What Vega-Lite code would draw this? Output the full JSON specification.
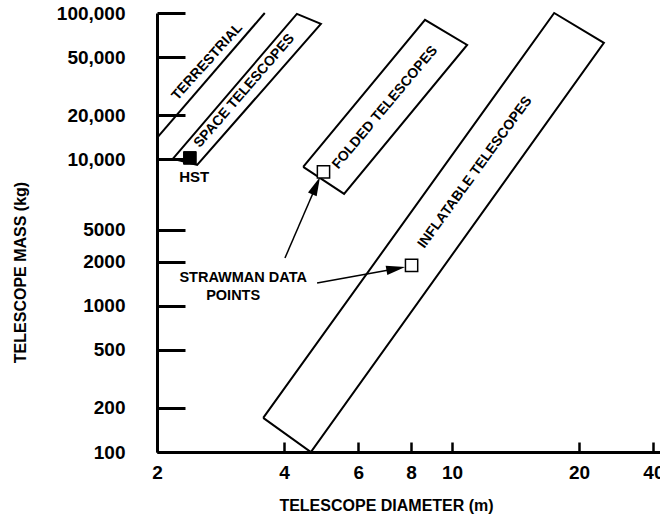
{
  "$schema": "https://vega.github.io/schema/vega-lite/v6.json",
  "width": 503,
  "height": 439,
  "autosize": "none",
  "padding": {"left": 157, "top": 13, "right": 0, "bottom": 64},
  "background": "white",
  "config": {
    "view": {"stroke": null},
    "font": "Liberation Sans",
    "axis": {
      "domainColor": "black",
      "tickColor": "black",
      "labelColor": "black",
      "titleColor": "black",
      "grid": false,
      "labelFont": "Liberation Sans",
      "labelFontWeight": "bold",
      "titleFont": "Liberation Sans",
      "titleFontWeight": "bold",
      "labelFlush": false,
      "labelOverlap": false,
      "labelBound": false
    }
  },
  "datasets": {
    "bands": [
      {"band": "terrestrial", "order": 1, "d": 2.0, "m": 14000},
      {"band": "terrestrial", "order": 2, "d": 3.6, "m": 100000},
      {"band": "space", "order": 1, "d": 2.18, "m": 10070},
      {"band": "space", "order": 2, "d": 4.29, "m": 98600},
      {"band": "space", "order": 3, "d": 4.89, "m": 84230},
      {"band": "space", "order": 4, "d": 2.49, "m": 9157},
      {"band": "space", "order": 5, "d": 2.18, "m": 10070},
      {"band": "folded", "order": 1, "d": 4.44, "m": 8870},
      {"band": "folded", "order": 2, "d": 8.63, "m": 89800},
      {"band": "folded", "order": 3, "d": 10.86, "m": 60500},
      {"band": "folded", "order": 4, "d": 5.55, "m": 5800},
      {"band": "folded", "order": 5, "d": 4.44, "m": 8870},
      {"band": "inflatable", "order": 1, "d": 3.57, "m": 171},
      {"band": "inflatable", "order": 2, "d": 17.46, "m": 100000},
      {"band": "inflatable", "order": 3, "d": 22.9, "m": 62460},
      {"band": "inflatable", "order": 4, "d": 4.63, "m": 100},
      {"band": "inflatable", "order": 5, "d": 3.57, "m": 171}
    ],
    "arrows": [
      {"arrow": "a1", "order": 1, "d": 4.02, "m": 2118},
      {"arrow": "a1", "order": 2, "d": 4.766, "m": 6607},
      {"arrow": "a2", "order": 1, "d": 4.79, "m": 1429},
      {"arrow": "a2", "order": 2, "d": 7.36, "m": 1790}
    ],
    "heads": [
      {"arrow": "a1", "d": 4.766, "m": 6607},
      {"arrow": "a2", "d": 7.36, "m": 1790}
    ],
    "points": [
      {"name": "HST", "kind": "HST", "d": 2.393, "m": 10224},
      {"name": "Folded strawman", "kind": "strawman", "d": 4.96, "m": 8202},
      {"name": "Inflatable strawman", "kind": "strawman", "d": 8.02, "m": 1883}
    ],
    "bandLabels": [
      {"label": "TERRESTRIAL", "d": 2.63, "m": 46400},
      {"label": "SPACE TELESCOPES", "d": 3.22, "m": 29340},
      {"label": "FOLDED TELESCOPES", "d": 6.94, "m": 22600},
      {"label": "INFLATABLE TELESCOPES", "d": 11.34, "m": 8150}
    ],
    "notes": [
      {"label": "HST", "d": 2.45, "m": 7590},
      {"label": "STRAWMAN DATA", "d": 3.2, "m": 1545},
      {"label": "POINTS", "d": 3.03, "m": 1165}
    ]
  },
  "layer": [
    {
      "data": {"name": "bands"},
      "mark": {"type": "line", "stroke": "black", "strokeWidth": 2},
      "encoding": {
        "x": {
          "field": "d", "type": "quantitative",
          "scale": {"type": "log", "domain": [2, 31.1], "nice": false},
          "axis": {
            "values": [2, 4, 6, 8, 10, 20, 30],
            "labelExpr": "datum.value == 30 ? '40' : format(datum.value, 'd')",
            "tickSize": -10,
            "tickWidth": 2.5,
            "domainWidth": 3,
            "labelPadding": 21,
            "labelFontSize": 19,
            "labelBaseline": "top",
            "title": "TELESCOPE DIAMETER (m)",
            "titleFontSize": 16,
            "titleX": 229,
            "titleY": 53,
            "titleAlign": "center",
            "titleBaseline": "middle"
          }
        },
        "y": {
          "field": "m", "type": "quantitative",
          "scale": {"type": "log", "domain": [100, 100000], "nice": false},
          "axis": {
            "values": [100, 200, 500, 1000, 2000, 3300, 10000, 20000, 50000, 100000],
            "labelExpr": "datum.value >= 10000 ? format(datum.value, ',') : (datum.value == 3300 ? '5000' : format(datum.value, 'd'))",
            "tickSize": -28,
            "tickWidth": 3,
            "domainWidth": 3,
            "labelPadding": 60,
            "labelFontSize": 19,
            "title": "TELESCOPE MASS (kg)",
            "titleFontSize": 16,
            "titleX": -137,
            "titleY": 259,
            "titleAlign": "center",
            "titleBaseline": "middle"
          }
        },
        "detail": {"field": "band"},
        "order": {"field": "order"}
      }
    },
    {
      "mark": {"type": "rule", "stroke": "black", "strokeWidth": 2.5},
      "encoding": {"y": {"datum": 100000, "type": "quantitative"}}
    },
    {
      "data": {"name": "arrows"},
      "mark": {"type": "line", "stroke": "black", "strokeWidth": 1.5},
      "encoding": {
        "x": {"field": "d", "type": "quantitative"},
        "y": {"field": "m", "type": "quantitative"},
        "detail": {"field": "arrow"},
        "order": {"field": "order"}
      }
    },
    {
      "data": {"name": "heads"},
      "transform": [{"filter": "datum.arrow == 'a1'"}],
      "mark": {"type": "point", "shape": "M0,-1L0.5,1L-0.5,1Z", "filled": true, "fill": "black", "stroke": null, "size": 361, "angle": 24, "opacity": 1},
      "encoding": {
        "x": {"field": "d", "type": "quantitative"},
        "y": {"field": "m", "type": "quantitative"}
      }
    },
    {
      "data": {"name": "heads"},
      "transform": [{"filter": "datum.arrow == 'a2'"}],
      "mark": {"type": "point", "shape": "M0,-1L0.5,1L-0.5,1Z", "filled": true, "fill": "black", "stroke": null, "size": 361, "angle": 80, "opacity": 1},
      "encoding": {
        "x": {"field": "d", "type": "quantitative"},
        "y": {"field": "m", "type": "quantitative"}
      }
    },
    {
      "data": {"name": "points"},
      "transform": [{"filter": "datum.kind == 'HST'"}],
      "mark": {"type": "point", "shape": "square", "filled": true, "fill": "black", "stroke": "black", "strokeWidth": 1, "size": 160, "opacity": 1},
      "encoding": {
        "x": {"field": "d", "type": "quantitative"},
        "y": {"field": "m", "type": "quantitative"}
      }
    },
    {
      "data": {"name": "points"},
      "transform": [{"filter": "datum.kind == 'strawman'"}],
      "mark": {"type": "point", "shape": "square", "filled": true, "fill": "white", "stroke": "black", "strokeWidth": 1.5, "size": 150, "opacity": 1},
      "encoding": {
        "x": {"field": "d", "type": "quantitative"},
        "y": {"field": "m", "type": "quantitative"}
      }
    },
    {
      "data": {"name": "bandLabels"},
      "transform": [{"filter": "datum.label == 'TERRESTRIAL'"}],
      "mark": {"type": "text", "angle": -48, "font": "Liberation Sans", "fontWeight": "bold", "fontSize": 14, "align": "center", "baseline": "middle", "color": "black"},
      "encoding": {
        "x": {"field": "d", "type": "quantitative"},
        "y": {"field": "m", "type": "quantitative"},
        "text": {"field": "label"}
      }
    },
    {
      "data": {"name": "bandLabels"},
      "transform": [{"filter": "datum.label == 'SPACE TELESCOPES'"}],
      "mark": {"type": "text", "angle": -49, "font": "Liberation Sans", "fontWeight": "bold", "fontSize": 14, "align": "center", "baseline": "middle", "color": "black"},
      "encoding": {
        "x": {"field": "d", "type": "quantitative"},
        "y": {"field": "m", "type": "quantitative"},
        "text": {"field": "label"}
      }
    },
    {
      "data": {"name": "bandLabels"},
      "transform": [{"filter": "datum.label == 'FOLDED TELESCOPES'"}],
      "mark": {"type": "text", "angle": -50, "font": "Liberation Sans", "fontWeight": "bold", "fontSize": 14, "align": "center", "baseline": "middle", "color": "black"},
      "encoding": {
        "x": {"field": "d", "type": "quantitative"},
        "y": {"field": "m", "type": "quantitative"},
        "text": {"field": "label"}
      }
    },
    {
      "data": {"name": "bandLabels"},
      "transform": [{"filter": "datum.label == 'INFLATABLE TELESCOPES'"}],
      "mark": {"type": "text", "angle": -54, "font": "Liberation Sans", "fontWeight": "bold", "fontSize": 14, "align": "center", "baseline": "middle", "color": "black"},
      "encoding": {
        "x": {"field": "d", "type": "quantitative"},
        "y": {"field": "m", "type": "quantitative"},
        "text": {"field": "label"}
      }
    },
    {
      "data": {"name": "notes"},
      "transform": [{"filter": "datum.label == 'HST'"}],
      "mark": {"type": "text", "font": "Liberation Sans", "fontWeight": "bold", "fontSize": 15, "align": "center", "baseline": "middle", "color": "black"},
      "encoding": {
        "x": {"field": "d", "type": "quantitative"},
        "y": {"field": "m", "type": "quantitative"},
        "text": {"field": "label"}
      }
    },
    {
      "data": {"name": "notes"},
      "transform": [{"filter": "datum.label != 'HST'"}],
      "mark": {"type": "text", "font": "Liberation Sans", "fontWeight": "bold", "fontSize": 14.5, "align": "center", "baseline": "middle", "color": "black"},
      "encoding": {
        "x": {"field": "d", "type": "quantitative"},
        "y": {"field": "m", "type": "quantitative"},
        "text": {"field": "label"}
      }
    }
  ]
}
